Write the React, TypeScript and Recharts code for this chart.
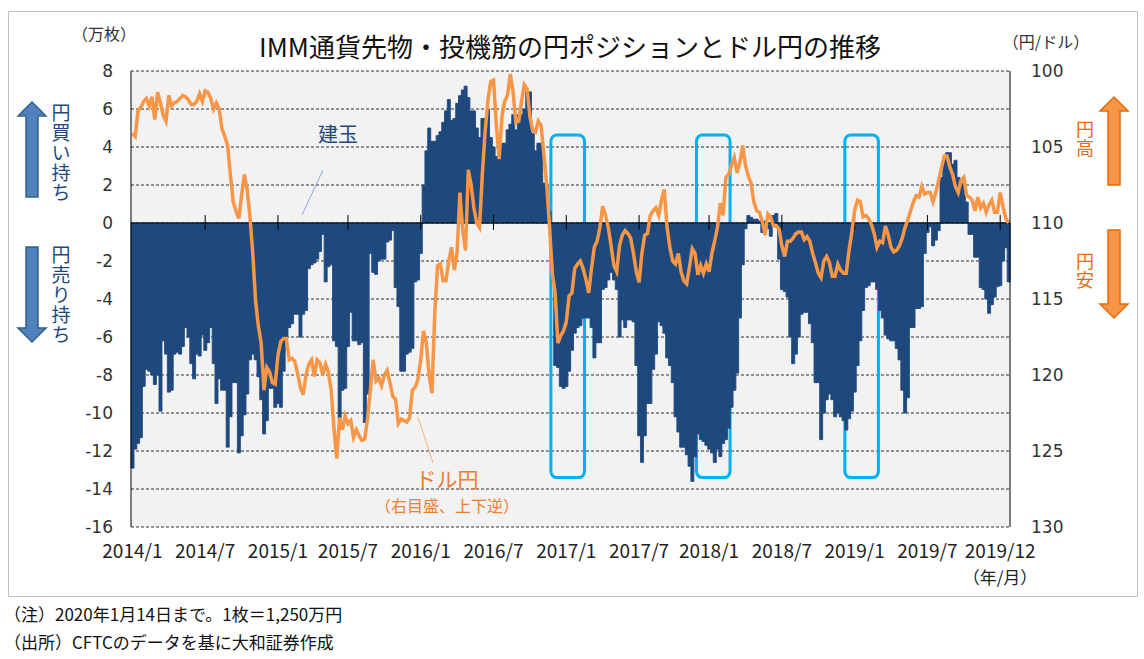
import React from "react";
import {
  Bar,
  CartesianGrid,
  ComposedChart,
  Line,
  ReferenceArea,
  ReferenceLine,
  XAxis,
  YAxis,
} from "recharts";

// IMM speculative net yen positions (10k contracts), weekly from 2014/1
const positions = [
  -12.9, -11.9, -11.6, -11.3, -8.6, -7.7, -7.8, -8.0, -8.5, -8.0,
  -9.9, -6.2, -6.9, -8.9, -8.8, -6.9, -6.8, -6.9, -6.5, -5.5,
  -6.0, -7.4, -8.2, -6.9, -7.0, -5.9, -6.7, -6.3, -5.5, -7.4,
  -9.5, -8.2, -8.8, -8.8, -11.8, -10.2, -8.4, -8.4, -12.1, -11.2,
  -10.1, -9.0, -7.2, -6.9, -7.2, -8.1, -9.3, -11.1, -10.4, -8.7,
  -8.7, -9.7, -9.5, -9.7, -7.8, -6.0, -5.5, -5.3, -4.8, -4.8,
  -6.0, -4.8, -4.6, -2.4, -2.2, -2.1, -1.9, -1.5, -0.6, -3.1,
  -2.3, -2.2, -6.2, -6.5, -10.3, -8.8, -8.7, -6.5, -4.7, -6.2,
  -6.2, -6.4, -6.3, -10.5, -9.0, -1.6, -2.6, -2.7, -2.0, -1.9,
  -1.9, -1.0, -0.9, -0.4, -3.4, -4.4, -7.8, -7.8, -6.9, -6.8,
  -6.6, -3.1, -3.0, -1.6, 2.0, 3.8, 5.0, 4.3, 4.3, 4.6,
  4.8, 5.3, 5.9, 6.5, 5.4, 5.5, 6.3, 6.7, 7.0, 7.2,
  6.6, 5.9, 5.9, 5.0, 4.5, 5.5, 5.5, 6.0, 4.5, 4.0,
  3.5, 3.5, 4.2, 4.2, 4.9, 5.2, 5.7, 4.9, 5.7, 5.7,
  6.0, 6.9, 6.9, 4.7, 3.8, 4.2, 4.2, 2.1, 2.0, 0.6,
  -2.0, -7.5, -7.6, -8.6, -8.7, -8.6, -7.8, -6.7, -5.8, -5.5,
  -5.4, -5.0, -5.0, -5.0, -5.5, -7.1, -6.3, -6.3, -3.5, -3.4,
  -3.0, -2.6, -3.0, -3.5, -6.0, -5.1, -5.5, -5.1, -5.1, -5.2,
  -7.5, -11.2, -12.6, -11.2, -9.5, -9.5, -7.7, -6.9, -5.2, -5.4,
  -5.8, -7.1, -7.5, -8.4, -10.2, -11.0, -11.8, -11.8, -12.2, -12.8,
  -13.6, -12.3, -11.1, -11.4, -11.5, -11.7, -11.9, -12.1, -12.6, -11.9,
  -12.3, -11.6, -11.4, -10.8, -9.7, -8.8, -7.9, -5.0, -2.2, -0.3,
  0.4, 0.3, 0.2, 0.2, 0.1, -0.5, 0.1, -0.3, -0.7, 0.4,
  0.5, -1.9, -3.5, -3.6, -3.9, -6.0, -7.4, -6.9, -6.0, -4.8,
  -4.7, -4.7, -5.3, -6.3, -8.4, -8.4, -11.4, -10.0, -9.3, -9.0,
  -9.3, -10.2, -10.0, -10.2, -10.4, -10.9, -10.3, -9.9, -8.9, -7.5,
  -6.2, -4.6, -3.4, -3.3, -3.1, -3.1, -3.5, -4.6, -5.0, -5.9,
  -6.1, -6.2, -6.2, -6.6, -7.2, -8.8, -10.0, -9.2, -5.5, -5.5,
  -4.5, -4.5, -4.4, -1.6, -0.5, -0.2, -1.2, -0.9, -0.4, 2.4,
  3.3, 3.7, 3.7, 3.1, 3.3, 2.4, 2.1, 2.0, 1.1, -0.6,
  -0.6, -1.8, -1.8, -3.4, -3.5, -4.0, -4.75, -4.3, -3.9, -3.35,
  -3.3, -2.0, -1.3, -3.1,
];

// USD/JPY weekly (right axis, reversed)
const usdJpy = [
  104.1, 104.3, 102.6, 102.4, 102.0, 101.8, 102.3, 101.7, 103.2, 101.4,
  102.1, 102.9, 103.3, 101.6, 102.3, 102.1, 102.0, 101.8, 101.6, 101.7,
  101.9, 102.2, 102.2, 102.0, 101.5, 102.0, 101.3, 101.4, 101.8, 102.5,
  102.1, 102.5, 103.8, 104.3, 104.9, 106.8, 108.6, 109.2, 109.7, 108.2,
  106.8, 107.8, 109.6, 112.0, 115.1, 116.8, 117.9, 121.0, 119.5, 119.8,
  120.5, 120.6, 118.7, 117.8, 117.6, 117.6, 119.0, 118.9, 119.1, 119.9,
  120.8, 121.3, 120.0, 119.3, 119.0, 120.1, 119.0, 119.2, 120.0, 119.3,
  119.8, 121.0, 123.5, 125.5, 122.8, 123.6, 122.7, 123.2, 123.0, 124.1,
  123.6, 124.0, 124.3, 124.2, 122.9, 121.0, 119.0, 120.4, 120.2, 120.7,
  120.0, 119.7, 120.5, 121.4, 121.6, 123.2, 122.9, 123.0, 123.1, 122.8,
  121.0, 120.8, 120.3, 119.0, 117.1, 117.9, 120.0, 121.2, 116.0, 112.8,
  112.7, 113.8, 113.8, 112.5, 111.6, 113.1, 111.9, 108.0, 110.5, 111.8,
  106.5, 107.5, 109.0, 110.0, 110.3, 106.8, 104.0, 101.9, 100.7, 100.6,
  103.5, 105.8, 103.0, 102.0, 101.6, 100.2, 101.4, 103.4, 103.3, 102.0,
  100.9, 101.2, 103.0, 103.9, 104.0, 103.3, 103.6, 105.5, 107.5, 110.2,
  113.3, 114.6, 117.9, 117.4, 117.1, 116.5, 114.8, 114.6, 113.0, 112.7,
  112.5, 113.0, 113.7, 114.6, 113.0, 111.6, 111.2, 110.3, 108.9, 109.5,
  110.3, 111.5, 112.8, 113.2, 111.5, 110.8, 110.5, 110.7, 111.0, 112.0,
  113.2, 113.9, 112.0, 110.8, 110.7, 109.5, 109.2, 109.0, 109.5, 108.5,
  107.8, 110.3, 111.6, 112.5, 112.7, 112.0, 113.2, 113.8, 114.0, 112.9,
  111.7, 112.0, 113.4, 112.8, 113.3, 112.7, 113.2, 112.0, 111.2, 110.3,
  108.7, 109.5, 107.0, 106.8, 106.2, 105.7, 106.7, 106.0, 104.9, 106.2,
  106.9, 107.4, 108.6, 109.2, 109.3, 109.9, 110.8, 109.4, 109.6, 110.2,
  110.2, 110.4, 111.5, 112.2, 111.2, 111.2, 111.0, 110.7, 110.6, 110.6,
  111.1, 110.9, 111.2, 112.0, 112.6, 113.3, 113.6, 112.5, 112.2, 112.6,
  113.5, 113.5, 112.7, 113.1, 113.3, 113.3, 111.8, 110.6, 109.2, 108.5,
  108.6, 109.6, 109.5, 109.7, 110.1, 110.7, 111.6, 111.2, 111.3, 110.2,
  110.8, 111.6, 111.9, 111.8, 111.5, 111.0, 110.3, 109.8, 109.2, 108.6,
  108.2, 108.3, 107.6, 108.1, 108.0, 108.0, 108.6, 108.0, 107.2, 106.4,
  105.6, 105.6, 106.3, 106.8, 107.6, 108.0, 107.2, 107.0, 108.2, 108.3,
  108.5, 109.2, 108.3, 109.0, 108.7, 109.3, 108.8, 108.5, 109.3, 109.3,
  108.0, 108.9, 109.7, 110.0,
];

const START = Date.UTC(2014, 0, 7);
const pad = (n: number) => String(n).padStart(2, "0");
const weeks = positions.map((_, i) => {
  const d = new Date(START + i * 7 * 86400000);
  return `${d.getUTCFullYear()}-${pad(d.getUTCMonth() + 1)}-${pad(d.getUTCDate())}`;
});

// week index -> axis label
const labelWeeks = [0, 26, 52, 77, 103, 129, 155, 181, 206, 232, 258, 284, 310];
const labelTexts = [
  "2014/1", "2014/7", "2015/1", "2015/7", "2016/1", "2016/7", "2017/1",
  "2017/7", "2018/1", "2018/7", "2019/1", "2019/7", "2019/12",
];
const tickMarkWeeks = labelWeeks.slice(1);
const highlightWeeks = [
  [150, 161],
  [202, 213],
  [255, 266],
];
const leftTicks = [-16, -14, -12, -10, -8, -6, -4, -2, 0, 2, 4, 6, 8];
const rightTicks = [100, 105, 110, 115, 120, 125, 130];

const data = weeks.map((w, i) => ({ week: w, pos: positions[i], fx: usdJpy[i] }));
const labelByWeek: Record<string, string> = {};
labelWeeks.forEach((w, i) => (labelByWeek[weeks[w]] = labelTexts[i]));

const JP = "'Noto Sans CJK JP', 'Noto Sans', sans-serif";
const NUM = "'DejaVu Sans', sans-serif";
const NAVY = "#1F497D";
const ORANGE = "#F79646";

function WeekTick(props: any) {
  const { x, y, payload } = props;
  const label = labelByWeek[payload.value];
  if (!label) return null;
  return (
    <text x={x} y={y + 31} textAnchor="middle" fontSize={19} fontFamily={JP} fill="#222">
      {label}
    </text>
  );
}

// one text element set in vertical writing mode
function VerticalText({ x, top, text, color, size = 19, spacing = 1 }: any) {
  return (
    <text
      x={x}
      y={top}
      fontSize={size}
      fontFamily={JP}
      fill={color}
      letterSpacing={spacing}
      style={{ writingMode: "vertical-rl" } as any}
    >
      {text}
    </text>
  );
}

export default function App() {
  return (
    <div style={{ position: "absolute", left: 0, top: 0, width: 1144, height: 659, background: "#fff", fontFamily: JP }}>
      <div style={{ position: "absolute", left: 8, top: 11, width: 1128, height: 584, border: "1px solid #BFBFBF" }} />
      <div style={{ position: "absolute", left: 0, top: 0 }}>
        <ComposedChart
          width={1144}
          height={600}
          data={data}
          margin={{ top: 71, right: 0, bottom: 33, left: 0 }}
          barCategoryGap={0}
          barGap={0}
        >
          <CartesianGrid yAxisId="pos" vertical={false} fill="#F2F2F2" stroke="#000" strokeWidth={0.8} strokeDasharray="3 2" />
          <XAxis
            dataKey="week"
            height={40}
            interval={0}
            axisLine={false}
            tickLine={false}
            tickSize={0}
            tickMargin={0}
            tick={<WeekTick />}
          />
          <YAxis
            yAxisId="pos"
            width={131}
            domain={[-16, 8]}
            ticks={leftTicks}
            interval={0}
            axisLine={{ stroke: "#000", strokeWidth: 1 }}
            tickLine={false}
            tickSize={0}
            tickMargin={18}
            tick={{ fontSize: 17, fontFamily: NUM, fill: "#333" }}
          />
          <YAxis
            yAxisId="fx"
            orientation="right"
            width={134}
            domain={[100, 130]}
            reversed
            ticks={rightTicks}
            interval={0}
            axisLine={{ stroke: "#000", strokeWidth: 1 }}
            tickLine={false}
            tickSize={0}
            tickMargin={21}
            tick={{ fontSize: 17, fontFamily: NUM, fill: "#333", textAnchor: "start" }}
          />
          <Bar
            yAxisId="pos"
            dataKey="pos"
            fill={NAVY}
            stroke={NAVY}
            strokeWidth={0.9}
            isAnimationActive={false}
          />
          <ReferenceLine yAxisId="pos" y={0} stroke="#000" strokeWidth={1.2} />
          {tickMarkWeeks.map((w) => (
            <ReferenceLine
              key={w}
              yAxisId="pos"
              segment={[
                { x: weeks[w], y: 0.42 },
                { x: weeks[w], y: -0.37 },
              ]}
              stroke="#000"
              strokeWidth={1}
            />
          ))}
          <Line
            yAxisId="fx"
            type="linear"
            dataKey="fx"
            stroke={ORANGE}
            strokeWidth={3.5}
            dot={false}
            isAnimationActive={false}
          />
          {highlightWeeks.map(([a, b]) => (
            <ReferenceArea
              key={a}
              yAxisId="pos"
              x1={weeks[a]}
              x2={weeks[b]}
              y1={4.63}
              y2={-13.4}
              fill="none"
              fillOpacity={0}
              stroke="#00B0F0"
              strokeWidth={3}
              radius={6}
            />
          ))}
        </ComposedChart>
      </div>
      <svg width={1144} height={659} style={{ position: "absolute", left: 0, top: 0, pointerEvents: "none" }}>
        <text x={570} y={57} textAnchor="middle" fontSize={26} fontFamily={JP} fill="#111">
          IMM通貨先物・投機筋の円ポジションとドル円の推移
        </text>
        <text x={104} y={40} textAnchor="middle" fontSize={16} fontFamily={JP} fill="#333">（万枚）</text>
        <text x={1046} y={48} textAnchor="middle" fontSize={16} fontFamily={JP} fill="#333">（円/ドル）</text>
        <text x={1000} y={584} textAnchor="middle" fontSize={17} fontFamily={JP} fill="#222">（年/月）</text>

        {/* left arrows */}
        <path d="M32,102 L46,116 L38,116 L38,197 L26,197 L26,116 L18,116 Z" fill="#4F81BD" stroke="#385D8A" strokeWidth={1.5} />
        <path d="M26,247 L38,247 L38,328 L46,328 L32,342 L18,328 L26,328 Z" fill="#4F81BD" stroke="#385D8A" strokeWidth={1.5} />
        <VerticalText x={61} top={103} text="円買い持ち" color={NAVY} />
        <VerticalText x={61} top={245} text="円売り持ち" color={NAVY} />

        {/* right arrows */}
        <path d="M1114,97 L1128,111 L1120,111 L1120,185 L1108,185 L1108,111 L1100,111 Z" fill={ORANGE} stroke="#E46C0A" strokeWidth={1.5} />
        <path d="M1108,230 L1120,230 L1120,304 L1128,304 L1114,318 L1100,304 L1108,304 Z" fill={ORANGE} stroke="#E46C0A" strokeWidth={1.5} />
        <VerticalText x={1085} top={120} text="円高" color="#E46C0A" size={18} />
        <VerticalText x={1085} top={252} text="円安" color="#E46C0A" size={18} />

        {/* series callouts */}
        <text x={338} y={142} textAnchor="middle" fontSize={20} fontFamily={JP} fill={NAVY}>建玉</text>
        <line x1={302} y1={215} x2={323} y2={170} stroke="#8EA9DB" strokeWidth={1} />
        <text x={447} y={487} textAnchor="middle" fontSize={21} fontFamily={JP} fill="#ED7D31">ドル円</text>
        <text x={447} y={512} textAnchor="middle" fontSize={16} fontFamily={JP} fill="#ED7D31">（右目盛、上下逆）</text>
        <line x1={418} y1={417} x2={433} y2={463} stroke="#F4B183" strokeWidth={1} />

        {/* notes */}
        <text x={4} y={621} fontSize={17} fontFamily={JP} fill="#111">（注）2020年1月14日まで。1枚＝1,250万円</text>
        <text x={4} y={649} fontSize={17} fontFamily={JP} fill="#111">（出所）CFTCのデータを基に大和証券作成</text>
      </svg>
    </div>
  );
}
